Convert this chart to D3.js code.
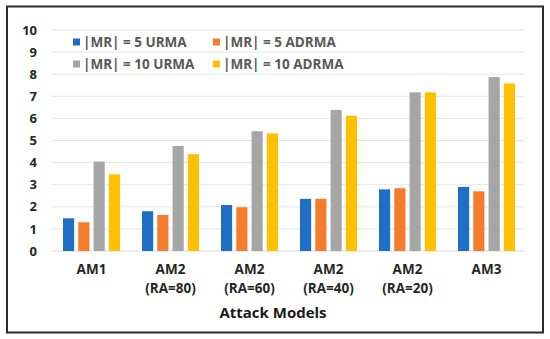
<!DOCTYPE html>
<html><head><meta charset="utf-8">
<script src="https://cdn.jsdelivr.net/npm/d3@7"></script>
<style>html,body{margin:0;padding:0;background:#fff;}svg{display:block;font-family:"Open Sans","Liberation Sans",sans-serif;}</style>
</head><body>
<svg id="c" width="550" height="339"></svg>
<script>
const categories = ["AM1", "AM2\n(RA=80)", "AM2\n(RA=60)", "AM2\n(RA=40)", "AM2\n(RA=20)", "AM3"];
const seriesNames = ["|MR| = 5 URMA", "|MR| = 5 ADRMA", "|MR| = 10 URMA", "|MR| = 10 ADRMA"];
const mr5URMA = [1.48, 1.8, 2.08, 2.36, 2.79, 2.9];
const mr5ADRMA = [1.3, 1.63, 1.98, 2.36, 2.84, 2.7];
const mr10URMA = [4.05, 4.75, 5.42, 6.38, 7.18, 7.87];
const mr10ADRMA = [3.47, 4.38, 5.32, 6.12, 7.18, 7.58];
const yTicks = [0, 1, 2, 3, 4, 5, 6, 7, 8, 9, 10];
const colors = ["#1f6fc6", "#f57c2c", "#a6a6a6", "#ffc000"];
const seriesValues = [mr5URMA, mr5ADRMA, mr10URMA, mr10ADRMA];

(function () {
const svg = d3.select("#c");
svg.append("rect").attr("x", 7).attr("y", 6.5).attr("width", 536).attr("height", 326)
  .attr("fill", "#fff").attr("stroke", "#2b2b2b").attr("stroke-width", 2);

const pL = 51, pR = 525, pT = 30, pB = 251;
const x = d3.scaleBand().domain(categories).range([pL, pR]);
const y = d3.scaleLinear().domain([0, 10]).range([pB, pT]);

svg.append("g").selectAll("line").data(yTicks).join("line")
  .attr("x1", pL).attr("x2", pR)
  .attr("y1", d => y(d)).attr("y2", d => y(d))
  .attr("stroke", d => d === 0 ? "#d9d9d9" : "#e6e6e6").attr("stroke-width", 1);

svg.append("g").selectAll("text").data(yTicks).join("text")
  .attr("x", 37).attr("y", d => y(d)).attr("dy", "0.36em")
  .attr("text-anchor", "end").attr("font-weight", "bold").attr("font-size", 13)
  .attr("fill", "#262626").text(d => d);

const inner = d3.scaleBand().domain(d3.range(4)).range([0, 57]).paddingInner(0.27);
const groups = svg.append("g").selectAll("g").data(categories).join("g")
  .attr("transform", c => `translate(${x(c) + (x.bandwidth() - 57) / 2 + 1},0)`);
groups.selectAll("rect").data((c, i) => seriesValues.map((s, k) => ({k, v: s[i]}))).join("rect")
  .attr("x", d => inner(d.k)).attr("width", inner.bandwidth())
  .attr("y", d => y(d.v)).attr("height", d => y(0) - y(d.v))
  .attr("fill", d => colors[d.k]);

const cl = svg.append("g").selectAll("text").data(categories).join("text")
  .attr("x", c => x(c) + x.bandwidth() / 2 + 1).attr("y", 274)
  .attr("text-anchor", "middle").attr("font-weight", "bold").attr("font-size", 13.5)
  .attr("fill", "#262626");
cl.selectAll("tspan").data(c => c.split("\n")).join("tspan")
  .attr("x", function() { return d3.select(this.parentNode).attr("x"); })
  .attr("dy", (d, i) => i === 0 ? 0 : 18.5).text(d => d);

svg.append("text").attr("x", 273).attr("y", 318).attr("text-anchor", "middle")
  .attr("font-weight", "bold").attr("font-size", 15).attr("fill", "#1a1a1a").text("Attack Models");

const legPos = [[73, 42], [213, 42], [73, 64], [213, 64]];
const lg = svg.append("g").selectAll("g").data(seriesNames).join("g")
  .attr("transform", (d, i) => `translate(${legPos[i][0]},${legPos[i][1]})`);
lg.append("rect").attr("x", 0).attr("y", -3.5).attr("width", 7).attr("height", 7).attr("fill", (d, i) => colors[i]);
lg.append("text").attr("x", 10).attr("y", 0).attr("dy", "0.36em").attr("font-weight", "bold")
  .attr("font-size", 13.5).attr("fill", "#595959").text(d => d);
})();
</script>
</body></html>
